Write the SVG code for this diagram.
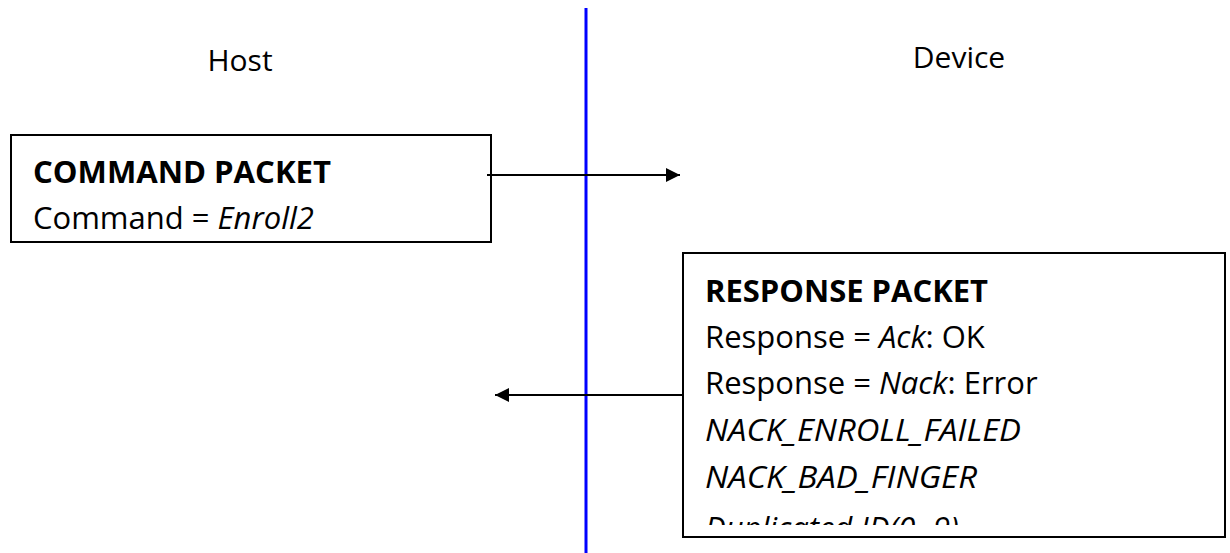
<svg xmlns="http://www.w3.org/2000/svg" width="1230" height="553" viewBox="0 0 1230 553">
<style>
text{font-family:"Open Sans","Noto Sans","DejaVu Sans",sans-serif;fill:#000;}
.lbl{font-size:30px;}
.t{font-size:31px;}
.b{font-weight:bold;}
.i{font-style:italic;}
.box{fill:#fff;stroke:#000;stroke-width:2;}
.conn{stroke:#000;stroke-width:2;fill:none;}
</style>
<defs>
<marker id="ah" viewBox="0 0 10 10" refX="10" refY="5" markerWidth="15" markerHeight="14" markerUnits="userSpaceOnUse" orient="auto">
<path d="M0,0 L10,5 L0,10 z" fill="#000"/>
</marker>
<clipPath id="rc"><rect x="684" y="254" width="540" height="271"/></clipPath>
</defs>
<rect width="1230" height="553" fill="#fff"/>
<g id="host-label"><text class="lbl" x="240" y="71" text-anchor="middle">Host</text></g>
<g id="device-label"><text class="lbl" x="959" y="68" text-anchor="middle">Device</text></g>
<g id="lifeline"><line x1="586" y1="8" x2="586" y2="553" stroke="#0000FF" stroke-width="3"/></g>
<g id="command-packet">
<rect class="box" x="11" y="135" width="480" height="107"/>
<text class="t b" x="33" y="183" textLength="298" lengthAdjust="spacingAndGlyphs">COMMAND PACKET</text>
<text class="t" x="33" y="229">Command = <tspan class="i">Enroll2</tspan></text>
</g>
<g id="response-packet">
<rect class="box" x="683" y="253" width="542" height="284"/>
<g clip-path="url(#rc)">
<text class="t b" x="705" y="302" textLength="283" lengthAdjust="spacingAndGlyphs">RESPONSE PACKET</text>
<text class="t" x="705" y="348">Response = <tspan class="i">Ack</tspan>: OK</text>
<text class="t" x="705" y="394">Response = <tspan class="i">Nack</tspan>: Error</text>
<text class="t i" x="705" y="441" textLength="316" lengthAdjust="spacingAndGlyphs">NACK_ENROLL_FAILED</text>
<text class="t i" x="705" y="488" textLength="272" lengthAdjust="spacingAndGlyphs">NACK_BAD_FINGER</text>
<text class="t i" x="705" y="539">Duplicated ID(0~9)</text>
</g>
</g>
<g id="connectors">
<line class="conn" x1="487" y1="175" x2="680" y2="175" marker-end="url(#ah)"/>
<line class="conn" x1="683" y1="395" x2="495" y2="395" marker-end="url(#ah)"/>
</g>
</svg>
